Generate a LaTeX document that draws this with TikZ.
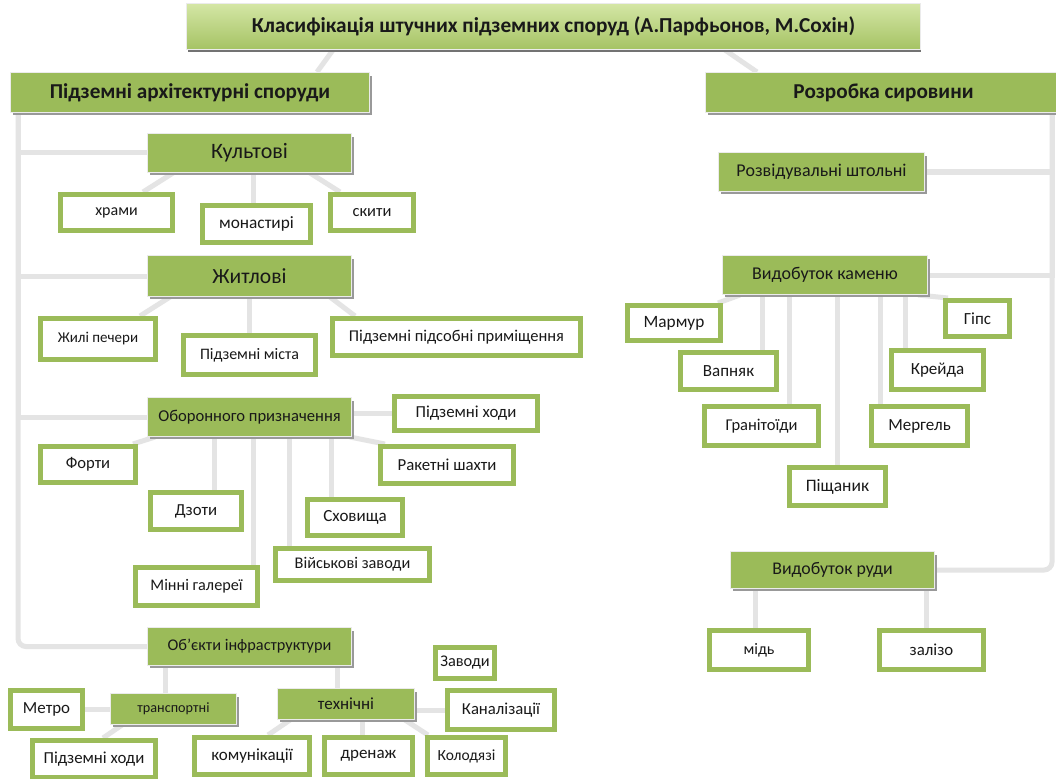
\documentclass[tikz,border=0pt]{standalone}
\usepackage{fontspec}
\setmainfont{Carlito}
\usetikzlibrary{shadows,backgrounds}
\definecolor{og}{RGB}{155,187,89}
\definecolor{cn}{RGB}{228,228,228}
\definecolor{tt}{RGB}{25,25,25}
\definecolor{tgtop}{RGB}{212,230,165}
\definecolor{tgbot}{RGB}{165,195,100}
\tikzset{
 fs/.style={font=\fontsize{#1}{#1}\selectfont},
 gbox/.style={fill=og, draw=black!8, line width=1.2pt, inner sep=0pt, text=tt, align=center,
   general shadow={fill=black!40, shadow xshift=2.5pt, shadow yshift=-3pt}},
 tbox/.style={top color=tgtop, bottom color=tgbot, draw=black!8, line width=1.2pt, inner sep=0pt, text=tt,
   general shadow={fill=black!55, shadow xshift=1pt, shadow yshift=-2.5pt}},
 wbox/.style={fill=white, draw=og, line width=5pt, inner sep=0pt, text=tt, align=center},
 inline/.style={draw=og, line width=0.8pt},
 conn/.style={draw=cn, line width=5pt},
}
\newcommand\WB[7][17]{%
 \pgfmathsetmacro\myCX{(#3+#5)/2}\pgfmathsetmacro\myCY{(#4+#6)/2}%
 \pgfmathsetmacro\myW{#5-#3-5}\pgfmathsetmacro\myH{#6-#4-5}%
 \node[wbox, fs=#1, minimum width=\myW pt, minimum height=\myH pt] (#2) at (\myCX,\myCY) {#7};
 \draw[inline] ([shift={(4.1pt,-4.1pt)}]#2.north west) rectangle ([shift={(-4.1pt,4.1pt)}]#2.south east);}
\newcommand\GB[7][14]{%
 \pgfmathsetmacro\myCX{(#3+#5)/2}\pgfmathsetmacro\myCY{(#4+#6)/2}%
 \pgfmathsetmacro\myW{#5-#3-1.2}\pgfmathsetmacro\myH{#6-#4-1.2}%
 \node[gbox, fs=#1, minimum width=\myW pt, minimum height=\myH pt] (#2) at (\myCX,\myCY) {#7};}
\begin{document}
\begin{tikzpicture}[x=1pt,y=-1pt]
\useasboundingbox (0,0) rectangle (1056,778);
% title
\node[tbox, fs=21.3, minimum width=733.8pt, minimum height=45.8pt] (root) at (553.5,26.5)
  {\bfseries Класифікація штучних підземних споруд (А.Парфьонов, М.Сохін)};
% green boxes
\GB[21.2]{lroot}{10}{72}{370}{113}{\bfseries Підземні архітектурні споруди}
\GB[21.2]{rroot}{705}{72}{1062}{113}{\bfseries Розробка сировини}
\GB[22]{kult}{147}{133}{352}{173}{Культові}
\GB[21.6]{zhyt}{147}{255}{352}{297}{Житлові}
\GB[16.6]{obor}{147}{397}{352}{437}{Оборонного призначення}
\GB[16.3]{infra}{147}{627}{352}{666}{Об’єкти інфраструктури}
\GB[14.2]{trans}{110}{693}{237}{725}{транспортні}
\GB[17]{tech}{277}{688}{415}{720}{технічні}
\GB[18]{shtol}{718}{152}{925}{192}{Розвідувальні штольні}
\GB[18]{kam}{722}{255}{928}{295}{Видобуток каменю}
\GB[17.8]{ruda}{730}{551}{935}{589}{Видобуток руди}
% white boxes
\WB[16]{khramy}{58}{192}{175}{233}{храми}
\WB[17.3]{monast}{200}{203}{313}{245}{монастирі}
\WB[16.5]{skyty}{328}{192}{416}{233}{скити}
\WB[15]{pechery}{38}{316}{158}{362}{Жилі печери}
\WB[16]{mista}{181}{333}{318}{377}{Підземні міста}
\WB[16.5]{pidsob}{330}{316}{583}{358}{Підземні підсобні приміщення}
\WB[16.8]{khody1}{392}{394}{540}{433}{Підземні ходи}
\WB[16.6]{forty}{38}{444}{138}{485}{Форти}
\WB[16.8]{raket}{378}{444}{516}{486}{Ракетні шахти}
\WB[16.8]{dzoty}{148}{490}{244}{532}{Дзоти}
\WB[17]{skhov}{305}{497}{405}{538}{Сховища}
\WB[16.3]{zavv}{273}{546}{432}{583}{Військові заводи}
\WB[16.2]{mini}{133}{565}{260}{608}{Мінні галереї}
\WB[16.3]{zavody}{433}{645}{497}{681}{Заводи}
\WB[16.7]{kanal}{445}{688}{557}{732}{Каналізації}
\WB[16.9]{metro}{8}{688}{85}{731}{Метро}
\WB[16.8]{khody2}{30}{738}{158}{780}{Підземні ходи}
\WB[17]{komun}{192}{735}{312}{777}{комунікації}
\WB[17]{drenazh}{322}{735}{415}{777}{дренаж}
\WB[15.5]{kolod}{425}{735}{508}{777}{Колодязі}
\WB[17.3]{marm}{625}{303}{723}{343}{Мармур}
\WB[17]{vap}{678}{350}{779}{392}{Вапняк}
\WB[16.5]{gran}{702}{404}{821}{448}{Гранітоїди}
\WB[17.5]{pisch}{787}{465}{888}{508}{Піщаник}
\WB[17]{merg}{869}{404}{970}{448}{Мергель}
\WB[17]{kreyda}{889}{348}{986}{392}{Крейда}
\WB[17]{gips}{943}{298}{1012}{339}{Гіпс}
\WB[16]{mid}{707}{628}{811}{672}{мідь}
\WB[16.8]{zaliz}{877}{628}{986}{672}{залізо}
\begin{pgfonlayer}{background}
\fill[white] (0,0) rectangle (1056,778);
\path[conn] (root.south -| 333,0) -- (lroot.north -| 317,0);
\path[conn] (root.south -| 725,0) -- (rroot.north -| 757,0);
% left spine
\path[conn] (lroot.south -| 18,0) |- (kult.west);
\path[conn] (lroot.south -| 18,0) |- (zhyt.west);
\path[conn] (lroot.south -| 18,0) |- (obor.west);
\path[conn, rounded corners=8pt] (lroot.south -| 18,0) |- (infra.west);
% kult
\path[conn] (kult.south -| 173,0) -- (khramy.north -| 143,0);
\path[conn] (kult.south -| 253,0) -- (monast.north -| 253,0);
\path[conn] (kult.south -| 310,0) -- (skyty.north -| 340,0);
% zhyt
\path[conn] (zhyt.south -| 170,0) -- (pechery.north -| 140,0);
\path[conn] (zhyt.south -| 249,0) -- (mista.north -| 249,0);
\path[conn] (zhyt.south -| 330,0) -- (pidsob.north -| 355,0);
% obor
\path[conn] (obor.east |- khody1.west) -- (khody1.west);
\path[conn] (obor.south -| 155,0) -- (forty.north -| 133,0);
\path[conn] (obor.south -| 214,0) -- (dzoty.north -| 214,0);
\path[conn] (obor.south -| 253,0) -- (mini.north -| 253,0);
\path[conn] (obor.south -| 289,0) -- (zavv.north -| 289,0);
\path[conn] (obor.south -| 331,0) -- (skhov.north -| 331,0);
\path[conn] (obor.south -| 350,0) -- (raket.north -| 385,0);
% infra
\path[conn] (infra.south -| 165,0) -- (trans.north -| 165,0);
\path[conn] (infra.south -| 337,0) -- (tech.north -| 337,0);
\path[conn] (trans.west) -- (metro.east |- trans.west);
\path[conn] (trans.south -| 122,0) -- (khody2.north -| 103,0);
\path[conn] (tech.east |- kanal.west) -- (kanal.west);
\path[conn] (tech.south -| 290,0) -- (komun.north -| 268,0);
\path[conn] (tech.south -| 362,0) -- (drenazh.north -| 362,0);
\path[conn] (tech.south -| 405,0) -- (kolod.north -| 428,0);
% right spine
\path[conn] (rroot.south -| 1052,0) |- (shtol.east);
\path[conn] (rroot.south -| 1052,0) |- (kam.east);
\path[conn, rounded corners=8pt] (rroot.south -| 1052,0) |- (ruda.east);
% kam
\path[conn] (kam.south -| 740,0) -- (marm.north -| 718,0);
\path[conn] (kam.south -| 762,0) -- (vap.north -| 762,0);
\path[conn] (kam.south -| 789,0) -- (gran.north -| 789,0);
\path[conn] (kam.south -| 837,0) -- (pisch.north -| 837,0);
\path[conn] (kam.south -| 880,0) -- (merg.north -| 880,0);
\path[conn] (kam.south -| 905,0) -- (kreyda.north -| 905,0);
\path[conn] (kam.south -| 918,0) -- (gips.north -| 948,0);
% ruda
\path[conn] (ruda.south -| 755,0) -- (mid.north -| 755,0);
\path[conn] (ruda.south -| 926,0) -- (zaliz.north -| 926,0);
\end{pgfonlayer}
\end{tikzpicture}
\end{document}
